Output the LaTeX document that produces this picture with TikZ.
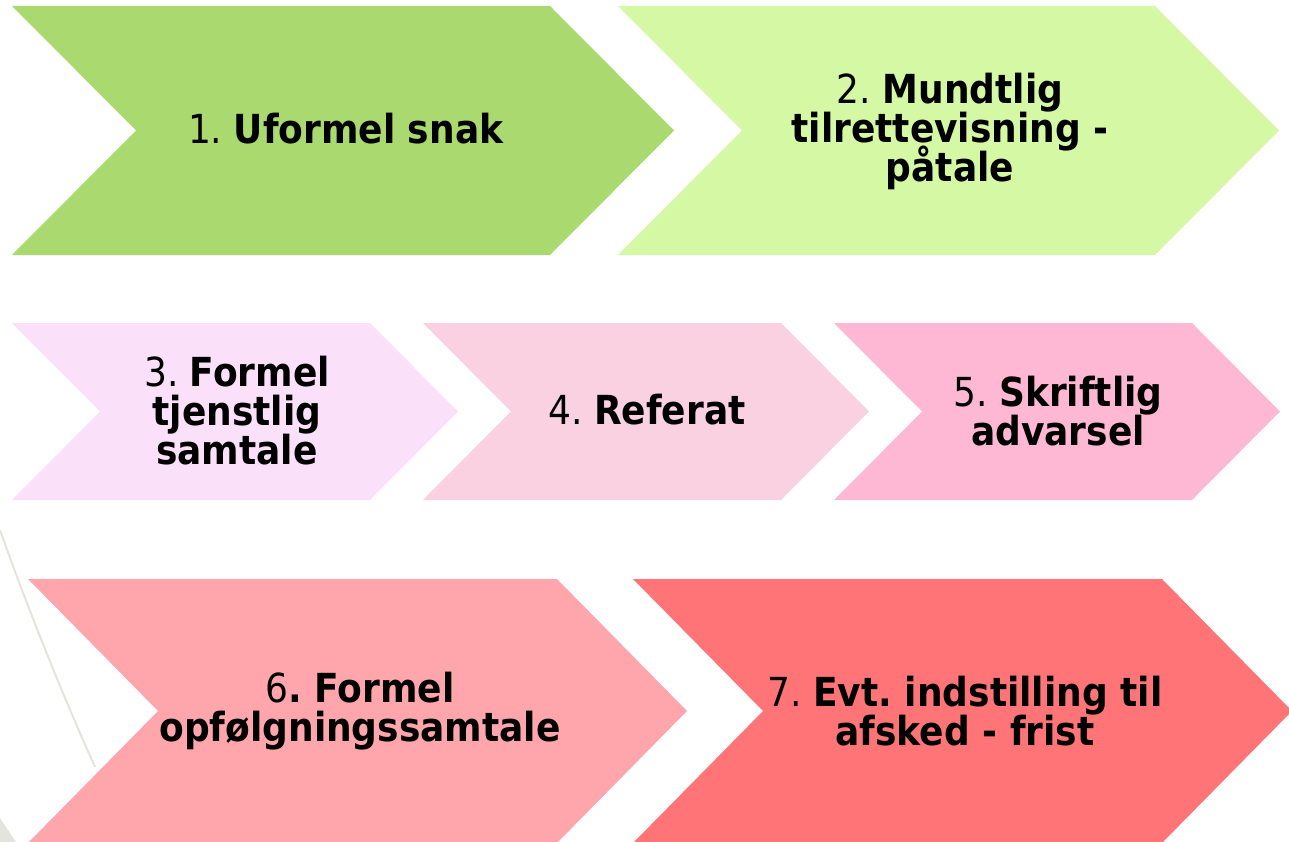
\documentclass[tikz,border=0pt]{standalone}
\usepackage{fontspec}
\setmainfont[FakeStretch=0.9]{DejaVu Sans}
\frenchspacing
\definecolor{stepA}{HTML}{A9D96F}
\definecolor{stepB}{HTML}{D5F8A5}
\definecolor{stepC}{HTML}{FBE0FA}
\definecolor{stepD}{HTML}{F9D1E1}
\definecolor{stepE}{HTML}{FFB8D4}
\definecolor{stepF}{HTML}{FFA6AD}
\definecolor{stepG}{HTML}{FF7577}
\definecolor{swoosh}{HTML}{E4E4DE}
\newcommand\stepfont{\fontsize{40}{39}\selectfont\lineskiplimit=-30pt\relax}
\tikzset{
  steptext/.style={align=center,inner sep=0pt,font=\stepfont}
}
\begin{document}
\begin{tikzpicture}[x=1pt,y=-1pt]
\useasboundingbox (0,0) rectangle (1289,842);
%\draw[help lines,step=100] (0,0) grid (1289,842);
\draw[swoosh,line width=2pt] (0,530) .. controls (30,615) and (65,700) .. (95,767);
\fill[swoosh] (0,818) -- (16,842) -- (0,842) -- cycle;

% left/top/width/half height/depth/colour
\foreach \l/\t/\w/\h/\d/\c in {12/6/538/124.5/124/stepA, 618/6/537/124.5/124/stepB,
  12/323/358/88.5/88/stepC, 423/323/358/88.5/88/stepD, 834/323/358/88.5/88/stepE,
  28/579/529/132/130/stepF, 633/579/529/132/130/stepG}
  \fill[\c] (\l,\t) -- ++(\w,0) -- ++(\d,\h) -- ++(-\d,\h) -- ++(-\w,0) -- ++(\d,-\h) -- cycle;

\node[steptext] (uformel) at (346,129) {1. \textbf{Uformel snak}};
\node[steptext] (mundtlig) at (950,131) {2. \textbf{Mundtlig}\\\textbf{tilrettevisning -}\\\textbf{påtale}};
\node[steptext] (formel) at (237,411) {3. \textbf{Formel}\\\textbf{tjenstlig}\\\textbf{samtale}};
\node[steptext] (referat) at (647,410) {4. \textbf{Referat}};
\node[steptext] (skriftlig) at (1058,411) {5. \textbf{Skriftlig}\\\textbf{advarsel}};
\node[steptext] (opfolgning) at (360,711) {6\textbf{. Formel}\\\textbf{opfølgningssamtale}};
\node[steptext] (afsked) at (965,711) {7. \textbf{Evt. indstilling til}\\\textbf{afsked - frist}};
\end{tikzpicture}
\end{document}
